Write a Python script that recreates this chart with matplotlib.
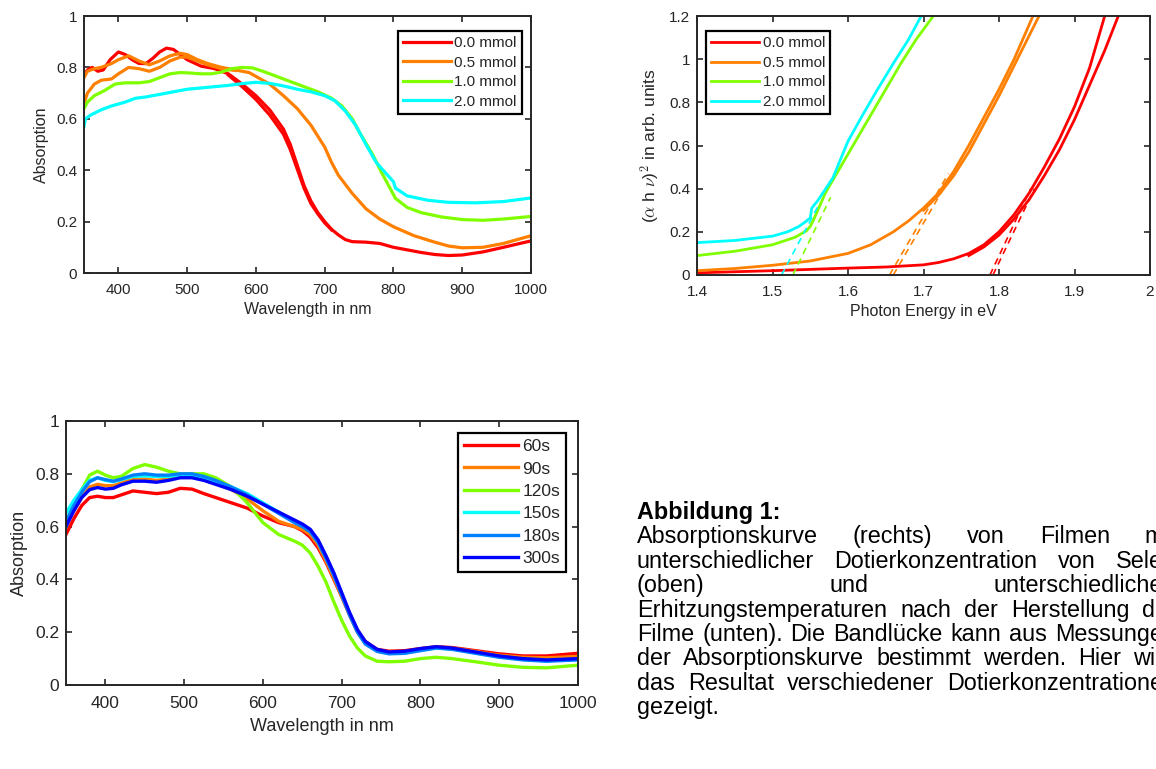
import matplotlib
matplotlib.use('Agg')
import matplotlib.pyplot as plt
from matplotlib.ticker import FormatStrFormatter

plt.rcParams['font.family'] = ['Liberation Sans', 'DejaVu Sans']
plt.rcParams['mathtext.fontset'] = 'cm'

W, H = 1156, 769
DARK = '#262626'
RED, ORANGE, GREEN, CYAN, AZURE, BLUE = '#ff0000', '#ff8000', '#80ff00', '#00ffff', '#0080ff', '#0000ff'

# ---- top left: absorption vs. doping ----
mmol_labels = ['0.0 mmol', '0.5 mmol', '1.0 mmol', '2.0 mmol']

wl_red = [350, 355, 362, 370, 378, 388, 400, 410, 420, 430, 440, 450, 460, 470, 480, 490, 500, 520, 540,
          560, 580, 600, 620, 640, 650, 660, 670, 680, 690, 700, 710, 720, 730, 740, 760, 780, 800, 820,
          840, 860, 880, 900, 930, 960, 1000]
abs_red = [0.77, 0.79, 0.8, 0.785, 0.79, 0.83, 0.86, 0.85, 0.83, 0.815, 0.815, 0.835, 0.86, 0.875, 0.87,
           0.85, 0.83, 0.805, 0.795, 0.775, 0.735, 0.69, 0.635, 0.56, 0.5, 0.42, 0.34, 0.28, 0.235, 0.2,
           0.17, 0.148, 0.13, 0.122, 0.12, 0.115, 0.1, 0.09, 0.08, 0.072, 0.068, 0.07, 0.082, 0.1, 0.125]
wl_red_b = [560, 580, 600, 620, 640, 650, 660, 670, 680, 690, 700, 710]
abs_red_b = [0.77, 0.725, 0.675, 0.615, 0.54, 0.48, 0.405, 0.33, 0.27, 0.23, 0.195, 0.168]

wl_orange = [350, 355, 365, 375, 390, 400, 415, 430, 445, 460, 475, 490, 500, 515, 530, 550, 570, 590,
             600, 620, 640, 660, 680, 700, 710, 720, 740, 760, 780, 800, 830, 860, 880, 900, 930, 960, 1000]
abs_orange = [0.76, 0.785, 0.795, 0.8, 0.815, 0.83, 0.845, 0.825, 0.81, 0.825, 0.845, 0.855, 0.85, 0.83,
              0.815, 0.8, 0.79, 0.78, 0.765, 0.735, 0.69, 0.64, 0.575, 0.49, 0.43, 0.38, 0.31, 0.25, 0.21,
              0.18, 0.145, 0.12, 0.105, 0.098, 0.1, 0.115, 0.145]
wl_orange_b = [350, 355, 365, 375, 390, 400, 415, 430, 445, 460, 475, 490, 500, 515, 530, 550, 570]
abs_orange_b = [0.66, 0.7, 0.735, 0.75, 0.755, 0.775, 0.8, 0.795, 0.785, 0.8, 0.825, 0.84, 0.84, 0.825,
                0.81, 0.795, 0.788]

wl_green = [350, 355, 365, 380, 395, 410, 430, 445, 460, 475, 490, 505, 520, 535, 550, 565, 580, 595, 610,
            630, 650, 670, 690, 710, 725, 740, 750, 770, 781, 795, 800, 803, 820, 840, 870, 900, 930, 960, 1000]
abs_green = [0.64, 0.665, 0.69, 0.71, 0.735, 0.74, 0.74, 0.745, 0.76, 0.775, 0.78, 0.778, 0.775, 0.775,
             0.782, 0.795, 0.8, 0.798, 0.785, 0.765, 0.745, 0.725, 0.705, 0.68, 0.65, 0.6, 0.55, 0.46, 0.4,
             0.33, 0.305, 0.29, 0.255, 0.235, 0.218, 0.208, 0.205, 0.21, 0.22]

wl_cyan = [350, 352, 360, 375, 390, 410, 425, 440, 460, 480, 500, 520, 540, 560, 580, 600, 620, 640, 660,
           680, 700, 715, 730, 745, 760, 775, 790, 800, 803, 820, 850, 880, 920, 960, 1000]
abs_cyan = [0.57, 0.6, 0.615, 0.635, 0.65, 0.665, 0.68, 0.685, 0.695, 0.705, 0.715, 0.72, 0.725, 0.73,
            0.737, 0.742, 0.738, 0.728, 0.715, 0.705, 0.69, 0.67, 0.63, 0.575, 0.5, 0.43, 0.385, 0.355,
            0.33, 0.3, 0.283, 0.275, 0.273, 0.278, 0.292]

# ---- top right: Tauc plot ----
E_red = [1.40, 1.50, 1.60, 1.65, 1.70, 1.72, 1.74, 1.76, 1.78, 1.80, 1.82, 1.84, 1.86, 1.88, 1.90, 1.92, 1.94]
t_red = [0.01, 0.02, 0.032, 0.037, 0.047, 0.058, 0.075, 0.1, 0.14, 0.2, 0.28, 0.38, 0.5, 0.63, 0.78, 0.96, 1.2]
E_red_b = [1.76, 1.78, 1.80, 1.82, 1.84, 1.86, 1.88, 1.90, 1.92, 1.94, 1.958]
t_red_b = [0.09, 0.13, 0.185, 0.26, 0.35, 0.46, 0.58, 0.72, 0.88, 1.04, 1.2]
E_orange = [1.40, 1.45, 1.50, 1.55, 1.60, 1.63, 1.66, 1.68, 1.70, 1.72, 1.74, 1.76, 1.78, 1.80, 1.82, 1.845]
t_orange = [0.02, 0.03, 0.045, 0.065, 0.1, 0.14, 0.2, 0.25, 0.31, 0.38, 0.48, 0.6, 0.73, 0.86, 1.0, 1.2]
E_orange_b = [1.70, 1.72, 1.74, 1.76, 1.78, 1.80, 1.82, 1.853]
t_orange_b = [0.3, 0.37, 0.46, 0.57, 0.7, 0.83, 0.97, 1.2]
E_green = [1.40, 1.45, 1.50, 1.53, 1.545, 1.55, 1.555, 1.57, 1.59, 1.61, 1.63, 1.65, 1.67, 1.69, 1.713]
t_green = [0.09, 0.11, 0.14, 0.175, 0.205, 0.225, 0.26, 0.38, 0.5, 0.62, 0.74, 0.86, 0.98, 1.09, 1.2]
E_cyan = [1.40, 1.45, 1.50, 1.52, 1.535, 1.545, 1.55, 1.552, 1.56, 1.58, 1.60, 1.62, 1.64, 1.66, 1.68, 1.697]
t_cyan = [0.15, 0.16, 0.18, 0.2, 0.225, 0.25, 0.265, 0.31, 0.345, 0.45, 0.62, 0.745, 0.865, 0.98, 1.09, 1.2]

# linear fits (dashed), pairs of end points
fit_cyan = ([1.512, 1.562], [0.0, 0.33])
fit_green = ([1.527, 1.577], [0.0, 0.36])
fit_orange = [([1.655, 1.733], [0.0, 0.47]), ([1.660, 1.738], [0.0, 0.47])]
fit_red = [([1.788, 1.842], [0.0, 0.4]), ([1.792, 1.847], [0.0, 0.4])]

# ---- bottom left: absorption vs. heating time ----
time_labels = ['60s', '90s', '120s', '150s', '180s', '300s']
wl_b = [350, 360, 370, 380, 390, 400, 410, 420, 435, 450, 465, 480, 495, 510, 525, 540, 560, 580, 600, 620,
        640, 650, 660, 670, 680, 690, 700, 710, 720, 730, 745, 760, 780, 800, 820, 840, 870, 900, 930, 960, 1000]
abs_60 = [0.57, 0.63, 0.68, 0.71, 0.715, 0.71, 0.71, 0.72, 0.735, 0.73, 0.725, 0.73, 0.745, 0.742, 0.725, 0.71,
          0.69, 0.67, 0.64, 0.615, 0.6, 0.585, 0.56, 0.52, 0.465, 0.4, 0.335, 0.265, 0.205, 0.165, 0.135, 0.128,
          0.13, 0.138, 0.145, 0.142, 0.13, 0.118, 0.11, 0.11, 0.12]
abs_90 = [0.6, 0.66, 0.71, 0.75, 0.76, 0.755, 0.755, 0.765, 0.78, 0.78, 0.775, 0.78, 0.795, 0.795, 0.785, 0.765,
          0.74, 0.705, 0.66, 0.62, 0.6, 0.59, 0.57, 0.53, 0.47, 0.405, 0.335, 0.265, 0.2, 0.158, 0.13, 0.123,
          0.126, 0.135, 0.143, 0.14, 0.127, 0.113, 0.105, 0.103, 0.108]
abs_120 = [0.6, 0.68, 0.74, 0.795, 0.81, 0.795, 0.785, 0.79, 0.82, 0.835, 0.825, 0.81, 0.8, 0.8, 0.8, 0.785,
           0.75, 0.69, 0.615, 0.57, 0.545, 0.53, 0.5, 0.45, 0.39, 0.315, 0.245, 0.185, 0.14, 0.11, 0.09, 0.088,
           0.09, 0.1, 0.105, 0.1, 0.088, 0.075, 0.067, 0.065, 0.075]
abs_150 = [0.65, 0.7, 0.74, 0.775, 0.785, 0.775, 0.77, 0.778, 0.79, 0.792, 0.79, 0.79, 0.795, 0.795, 0.785, 0.77,
           0.75, 0.725, 0.69, 0.655, 0.62, 0.605, 0.585, 0.545, 0.485, 0.42, 0.345, 0.27, 0.205, 0.16, 0.13, 0.12,
           0.122, 0.132, 0.14, 0.137, 0.122, 0.107, 0.097, 0.092, 0.097]
abs_180 = [0.62, 0.68, 0.73, 0.77, 0.785, 0.778, 0.772, 0.78, 0.795, 0.8, 0.795, 0.795, 0.8, 0.8, 0.79, 0.775,
           0.75, 0.72, 0.685, 0.65, 0.615, 0.6, 0.58, 0.54, 0.48, 0.415, 0.34, 0.265, 0.2, 0.155, 0.127, 0.118,
           0.12, 0.13, 0.14, 0.135, 0.12, 0.105, 0.095, 0.09, 0.095]
abs_300 = [0.6, 0.66, 0.71, 0.74, 0.748, 0.742, 0.745, 0.758, 0.772, 0.772, 0.768, 0.775, 0.785, 0.785, 0.775,
           0.76, 0.74, 0.715, 0.685, 0.655, 0.625, 0.61, 0.59, 0.55, 0.49, 0.425, 0.35, 0.275, 0.21, 0.165, 0.135,
           0.125, 0.128, 0.138, 0.145, 0.14, 0.125, 0.11, 0.1, 0.095, 0.1]

caption_title = 'Abbildung 1:'
caption_lines = ['Absorptionskurve (rechts) von Filmen mit',
                 'unterschiedlicher Dotierkonzentration von Selen',
                 '(oben) und unterschiedlichen',
                 'Erhitzungstemperaturen nach der Herstellung der',
                 'Filme (unten). Die Bandlücke kann aus Messungen',
                 'der Absorptionskurve bestimmt werden. Hier wird',
                 'das Resultat verschiedener Dotierkonzentrationen',
                 'gezeigt.']


def px_axes(fig, x0, y0, x1, y1):
    return fig.add_axes([x0 / W, 1 - y1 / H, (x1 - x0) / W, (y1 - y0) / H])


def matlab_style(ax, size, xpad):
    for s in ax.spines.values():
        s.set_color(DARK)
        s.set_linewidth(1.4)
    ax.tick_params(direction='in', top=True, right=True, length=4, width=1.2,
                   color=DARK, labelcolor=DARK, labelsize=size)
    ax.tick_params(axis='x', pad=xpad)
    ax.tick_params(axis='y', pad=5)
    ax.xaxis.set_major_formatter(FormatStrFormatter('%g'))
    ax.yaxis.set_major_formatter(FormatStrFormatter('%g'))


def legend(ax, size, **kw):
    leg = ax.legend(fontsize=size, fancybox=False, framealpha=1, edgecolor='black', borderaxespad=0,
                    handlelength=3.1, handletextpad=0.25, borderpad=0.35, **kw)
    leg.get_frame().set_linewidth(1.6)
    for t in leg.get_texts():
        t.set_color(DARK)
    return leg


fig = plt.figure(figsize=(W / 100, H / 100), dpi=100)

# top left
ax1 = px_axes(fig, 84, 16, 531, 273)
lw = 2.3
ax1.plot(wl_red, abs_red, color=RED, lw=lw, label=mmol_labels[0])
ax1.plot(wl_red_b, abs_red_b, color=RED, lw=lw)
ax1.plot(wl_orange, abs_orange, color=ORANGE, lw=lw, label=mmol_labels[1])
ax1.plot(wl_orange_b, abs_orange_b, color=ORANGE, lw=lw)
ax1.plot(wl_green, abs_green, color=GREEN, lw=lw, label=mmol_labels[2])
ax1.plot(wl_cyan, abs_cyan, color=CYAN, lw=lw, label=mmol_labels[3])
ax1.set_xlim(350, 1000)
ax1.set_ylim(0, 1)
ax1.set_xticks([400, 500, 600, 700, 800, 900, 1000])
ax1.set_yticks([0, 0.2, 0.4, 0.6, 0.8, 1])
matlab_style(ax1, 11, 7)
ax1.set_xlabel('Wavelength in nm', fontsize=11.5, color=DARK, labelpad=4)
ax1.set_ylabel('Absorption', fontsize=11.5, color=DARK, labelpad=5)
legend(ax1, 11, loc='upper right', bbox_to_anchor=(0.98, 0.942), labelspacing=0.36)

# top right
ax2 = px_axes(fig, 697, 16, 1150, 275)
lw2 = 2.0
ax2.plot(E_red, t_red, color=RED, lw=lw2, label=mmol_labels[0])
ax2.plot(E_red_b, t_red_b, color=RED, lw=lw2)
ax2.plot(E_orange, t_orange, color=ORANGE, lw=lw2, label=mmol_labels[1])
ax2.plot(E_orange_b, t_orange_b, color=ORANGE, lw=lw2)
ax2.plot(E_green, t_green, color=GREEN, lw=lw2, label=mmol_labels[2])
ax2.plot(E_cyan, t_cyan, color=CYAN, lw=lw2, label=mmol_labels[3])
ax2.plot(*fit_cyan, color=CYAN, lw=1.2, ls=(0, (4, 3)))
ax2.plot(*fit_green, color=GREEN, lw=1.2, ls=(0, (4, 3)))
for fx, fy in fit_orange:
    ax2.plot(fx, fy, color=ORANGE, lw=1.2, ls=(0, (4, 3)))
for fx, fy in fit_red:
    ax2.plot(fx, fy, color=RED, lw=1.2, ls=(0, (4, 3)))
ax2.set_xlim(1.4, 2)
ax2.set_ylim(0, 1.2)
ax2.set_xticks([1.4, 1.5, 1.6, 1.7, 1.8, 1.9, 2])
ax2.set_yticks([0, 0.2, 0.4, 0.6, 0.8, 1, 1.2])
matlab_style(ax2, 11, 7)
ax2.set_xlabel('Photon Energy in eV', fontsize=11.5, color=DARK, labelpad=4)
ax2.set_ylabel(r'($\alpha$ h $\nu$)$^2$ in arb. units', fontsize=12.5, color=DARK, labelpad=5)
legend(ax2, 11, loc='upper left', bbox_to_anchor=(0.02, 0.942), labelspacing=0.36)

# bottom left
ax3 = px_axes(fig, 66, 421, 578, 685)
series = [abs_60, abs_90, abs_120, abs_150, abs_180, abs_300]
colors = [RED, ORANGE, GREEN, CYAN, AZURE, BLUE]
for vals, c, lab in zip(series, colors, time_labels):
    ax3.plot(wl_b, vals, color=c, lw=2.4, label=lab)
ax3.set_xlim(350, 1000)
ax3.set_ylim(0, 1)
ax3.set_xticks([400, 500, 600, 700, 800, 900, 1000])
ax3.set_yticks([0, 0.2, 0.4, 0.6, 0.8, 1])
matlab_style(ax3, 12.5, 8)
ax3.set_xlabel('Wavelength in nm', fontsize=13, color=DARK, labelpad=5)
ax3.set_ylabel('Absorption', fontsize=13, color=DARK, labelpad=5)
legend(ax3, 12.5, loc='upper right', bbox_to_anchor=(0.977, 0.955), labelspacing=0.42)

# caption, justified like the text block in the document
x_left, x_right = 637, 1176
base0, step = 519, 24.4
fs = 16.8
fig.text(x_left / W, 1 - base0 / H, caption_title, fontsize=fs, fontweight='bold', va='baseline', color='black')
renderer = fig.canvas.get_renderer()
for i, line in enumerate(caption_lines):
    y = 1 - (base0 + (i + 1) * step) / H
    words = line.split()
    texts = [fig.text(0, y, w, fontsize=fs, va='baseline', color='black') for w in words]
    widths = [t.get_window_extent(renderer).width for t in texts]
    if i == len(caption_lines) - 1:
        gap = renderer.points_to_pixels(fs) * 0.278
    else:
        gap = (x_right - x_left - sum(widths)) / (len(words) - 1)
    x = x_left
    for t, wd in zip(texts, widths):
        t.set_x(x / W)
        x += wd + gap

fig.savefig('out.png', dpi=100)
